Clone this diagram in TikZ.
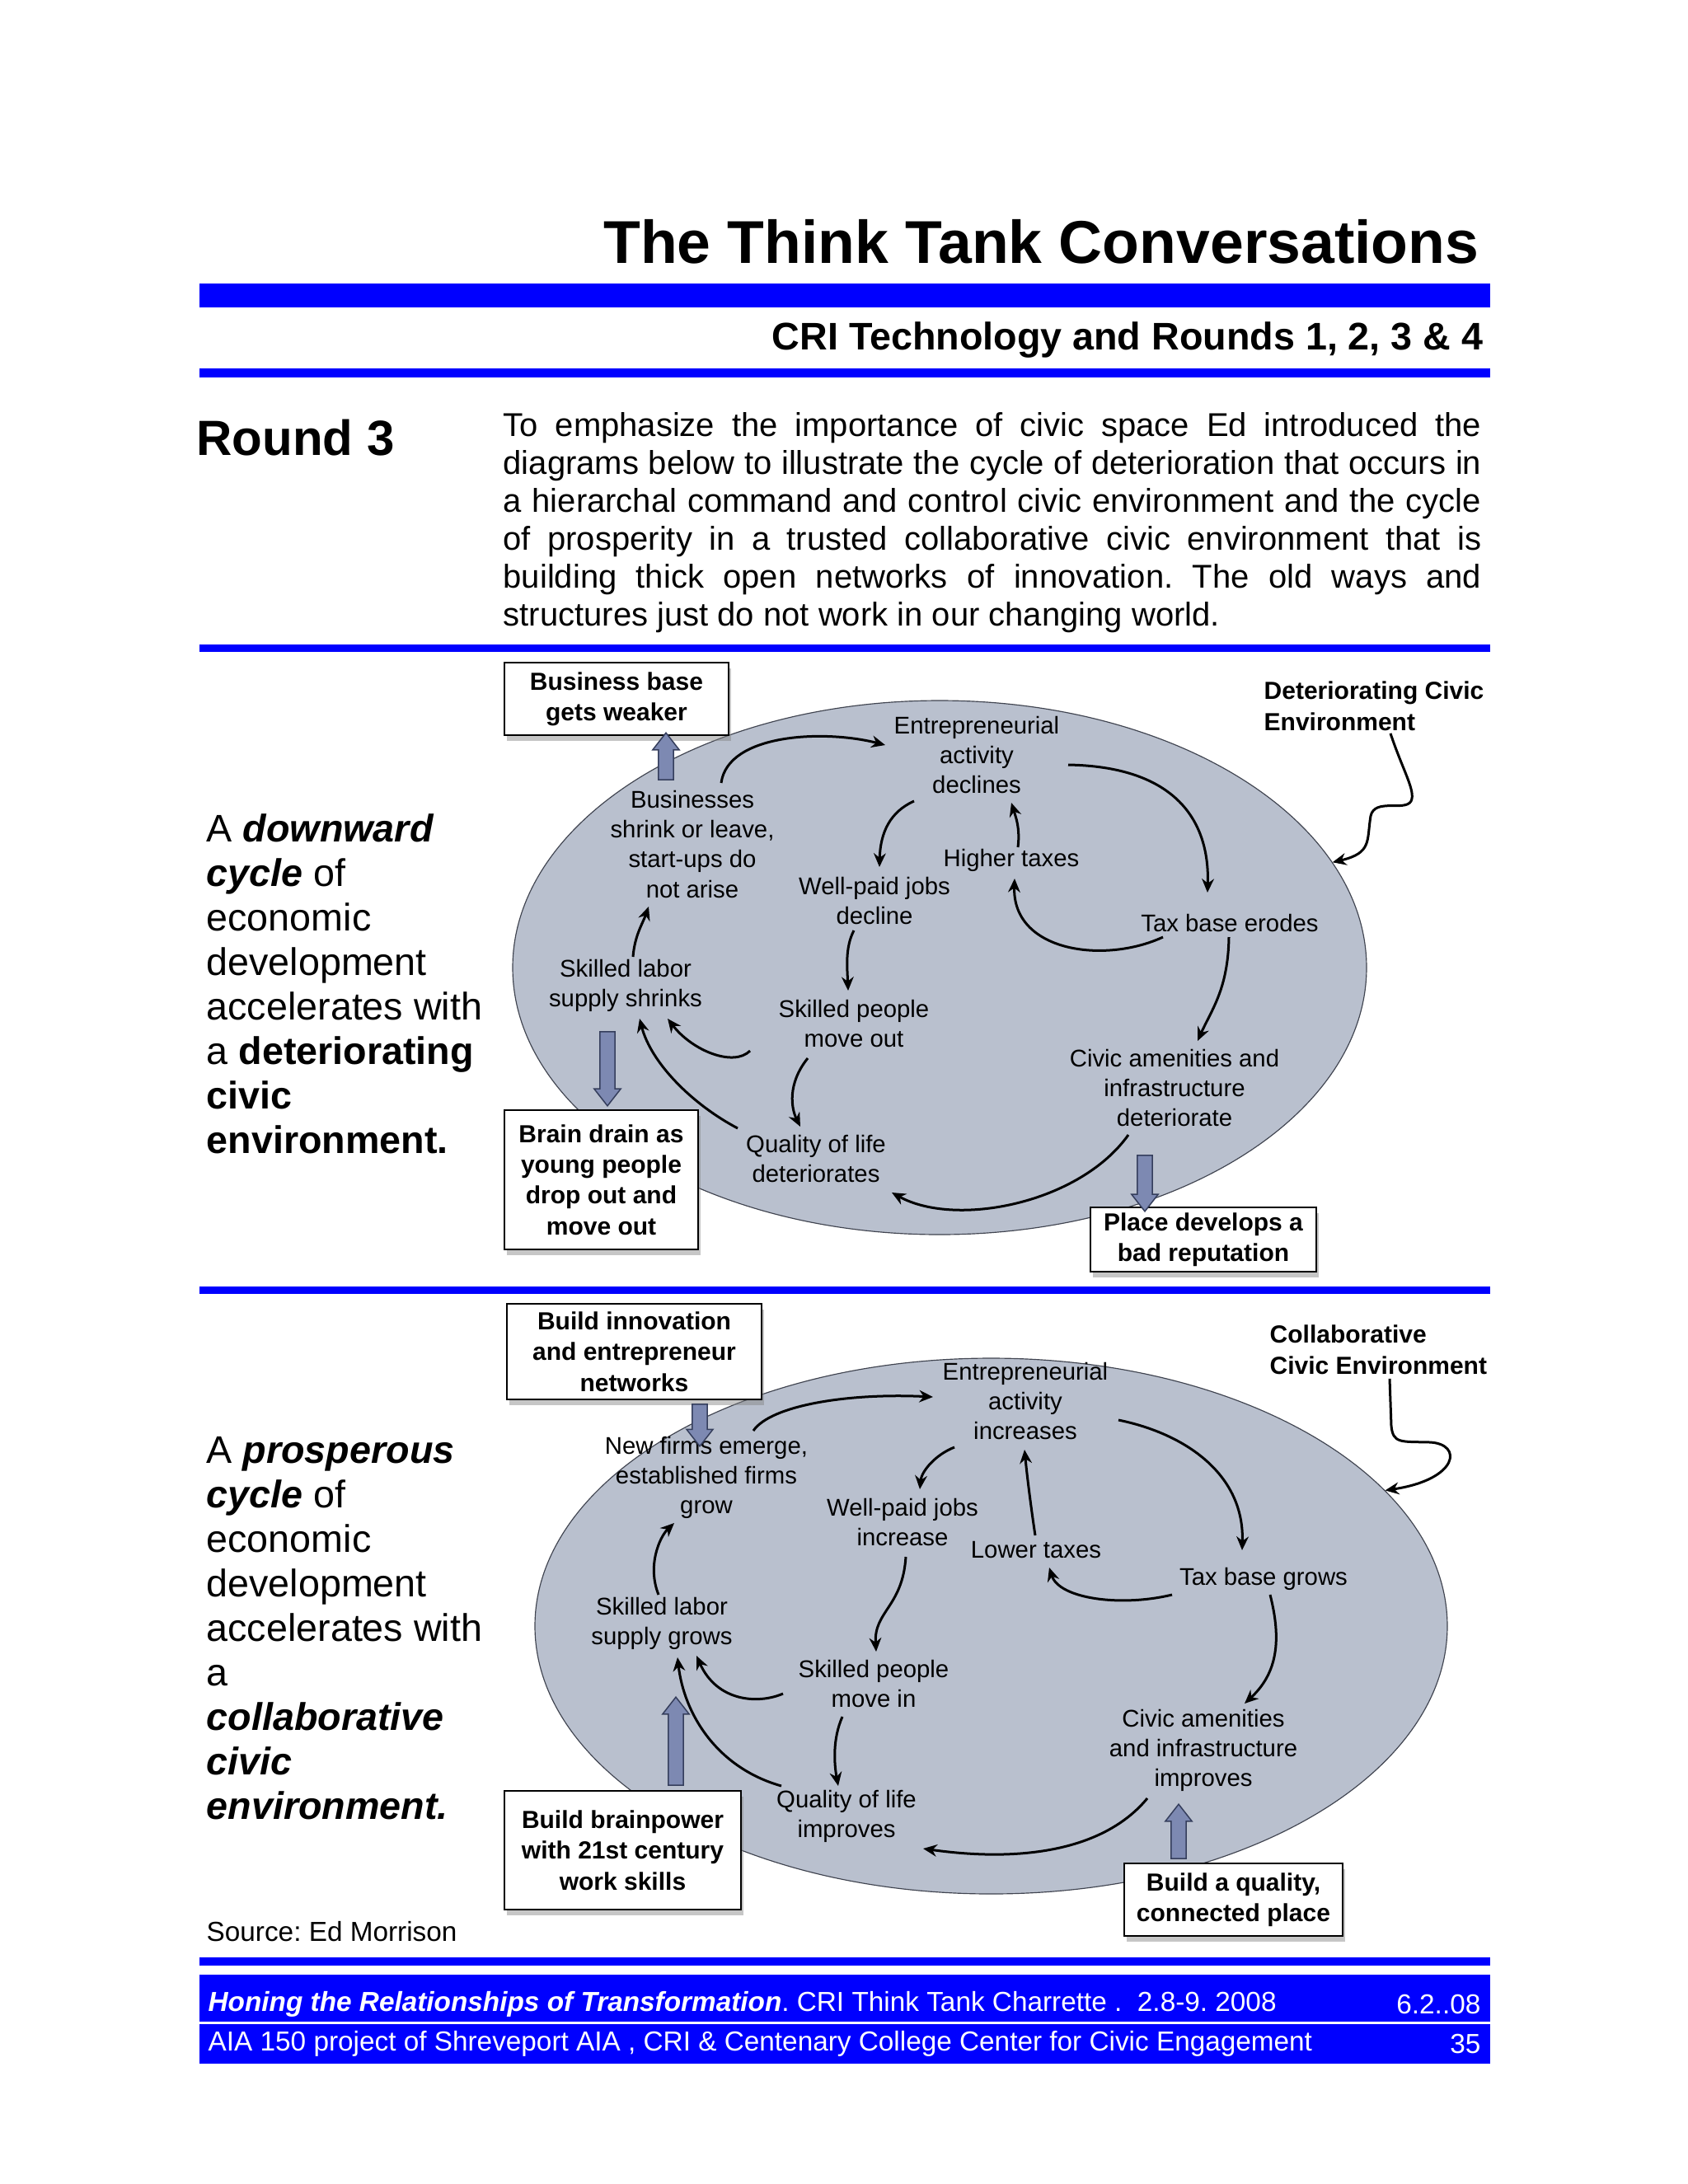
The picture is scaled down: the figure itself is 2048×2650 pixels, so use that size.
\documentclass[tikz,border=0pt]{standalone}
\usepackage{fontspec}
\setmainfont{Liberation Sans}
\frenchspacing
\usetikzlibrary{positioning,calc,arrows.meta,shapes.geometric,shapes.arrows,shadows}
\definecolor{bar}      {HTML}{0000FF}
\definecolor{ovalfill} {HTML}{B9C0CE}
\definecolor{ovaldraw} {HTML}{404450}
\definecolor{blkfill}  {HTML}{7D89B2}
\definecolor{blkdraw}  {HTML}{353E5C}
\tikzset{
  >=stealth,
  % --- nodes
  cyc/.style   = {align=center, inner sep=0pt, font=\fontsize{8.8}{10.9}\selectfont},
  box/.style   = {draw=black, line width=0.6pt, fill=white, align=center, inner sep=0pt,
                  font=\fontsize{9}{11.2}\selectfont\bfseries,
                  drop shadow={shadow xshift=1pt, shadow yshift=-2.2pt, opacity=.45}},
  oval/.style  = {ellipse, draw=ovaldraw, fill=ovalfill, line width=0.35pt, inner sep=0pt},
  envlbl/.style= {align=left, inner sep=0pt, font=\fontsize{9}{11.5}\selectfont\bfseries},
  blk/.style   = {single arrow, draw=blkdraw, fill=blkfill, line width=0.45pt,
                  inner sep=2.5pt, single arrow head extend=2.1pt, single arrow tip angle=76},
  side/.style  = {align=left, inner sep=0pt, font=\fontsize{14}{16.2}\selectfont},
  foot/.style  = {inner sep=0pt, text=white, font=\fontsize{10}{12}\selectfont},
  % --- edges
  e/.style     = {-{Stealth[length=5pt,width=4.4pt]}, line width=0.9pt},
}

\begin{document}
\begin{tikzpicture}[x=0.3pt, y=-0.3pt]
  \useasboundingbox (0,0) rectangle (2048,2650);

  % --- header
  \node[anchor=base east, inner sep=0pt, font=\fontsize{22}{24}\selectfont\bfseries] (title)
    at (1795,319) {The Think Tank Conversations};
  \fill[bar] (242,344) rectangle (1808,373);
  \node[anchor=base east, inner sep=0pt, font=\fontsize{14}{16}\selectfont\bfseries] (sub)
    at (1800,424) {CRI Technology and Rounds 1, 2, 3 \& 4};
  \fill[bar] (242,447) rectangle (1808,458);

  \node[anchor=west, inner sep=0pt, font=\fontsize{18}{20}\selectfont\bfseries] (rnd)
    at (238,531) {Round 3};
  \node[anchor=north west, inner sep=0pt, text width=356pt, align=justify,
        font=\fontsize{12}{13.8}\selectfont] (intro) at (610,500)
    {To emphasize the importance of civic space Ed introduced the\linebreak
     diagrams below to illustrate the cycle of deterioration that occurs in\linebreak
     a hierarchal command and control civic environment and the cycle\linebreak
     of prosperity in a trusted collaborative civic environment that is\linebreak
     building thick open networks of innovation. The old ways and\linebreak
     structures just do not work in our changing world.};
  \fill[bar] (242,782) rectangle (1808,791);

  % --- downward cycle
  \node[side, anchor=north west] (cap1) at (250,987)
    {A \textbf{\textit{downward}}\\\textbf{\textit{cycle}} of\\economic\\development\\accelerates with\\
     a \textbf{deteriorating}\\\textbf{civic}\\\textbf{environment.}};

  \node[oval, minimum width=310.8pt, minimum height=194.4pt] (dia1) at (1140,1174) {};

  \node[cyc] (ent1)  at (1185,916)  {Entrepreneurial\\activity\\declines};
  \node[cyc] (biz1)  at (840,1024)  {Businesses\\shrink or leave,\\start-ups do\\not arise};
  \node[cyc] (wpj1)  at (1061,1093) {Well-paid jobs\\decline};
  \node[cyc] (tax1)  at (1227,1044) {Higher taxes};
  \node[cyc] (tbe1)  at (1492,1120) {Tax base erodes};
  \node[cyc] (skl1)  at (759,1196)  {Skilled labor\\supply shrinks};
  \node[cyc] (skp1)  at (1036,1242) {Skilled people\\move out};
  \node[cyc] (civ1)  at (1425,1320) {Civic amenities and\\infrastructure\\deteriorate};
  \node[cyc] (qol1)  at (990,1406)  {Quality of life\\deteriorates};

  \node[box, minimum width=81.6pt, minimum height=26.4pt] (bb1) at (748,848)
    {Business base\\gets weaker};
  \node[box, minimum width=70.5pt, minimum height=50.7pt] (bd1) at (729.5,1431.5)
    {Brain drain as\\young people\\drop out and\\move out};
  \node[box, minimum width=82.2pt, minimum height=23.4pt] (pd1) at (1460,1504)
    {Place develops a\\bad reputation};
  \node[envlbl, anchor=west] (env1) at (1533,857) {Deteriorating Civic\\Environment};

  \node[blk, shape border rotate=90,  minimum height=17.1pt] (u1) at (808,923.5) {};
  \node[blk, shape border rotate=270, minimum height=27pt]   (d1) at (737,1291) {};
  \node[blk, shape border rotate=270, minimum height=20.4pt] (d2) at (1389,1430) {};

  \draw[e] ($(biz1)+(35,-74)$)  .. controls (883,890)   and (1000,885)  .. ($(ent1)+(-111,-12)$);
  \draw[e] ($(ent1)+(111,12)$)  .. controls (1420,930)  and (1468,990)  .. ($(tbe1)+(-27,-37)$);
  \draw[e] ($(ent1)+(-76,56)$)  .. controls (1080,985)  and (1068,1010) .. ($(wpj1)+(6,-41)$);
  \draw[e] ($(tax1)+(8,-16)$)   .. controls (1238,1005) and (1232,990)  .. ($(ent1)+(42,58)$);
  \draw[e] ($(tbe1)+(-81,17)$)  .. controls (1340,1170) and (1228,1155) .. ($(tax1)+(4,22)$);
  \draw[e] ($(tbe1)+(-1,17)$)   .. controls (1490,1200) and (1470,1225) .. ($(civ1)+(28,-57)$);
  \draw[e] ($(civ1)+(-56,57)$)  .. controls (1310,1460) and (1160,1490) .. ($(qol1)+(92,41)$);
  \draw[e] ($(wpj1)+(-25,36)$)  .. controls (1025,1150) and (1028,1175) .. ($(skp1)+(-7,-40)$);
  \draw[e] ($(skp1)+(-56,42)$)  .. controls (955,1315)  and (960,1345)  .. ($(qol1)+(-19,-39)$);
  \draw[e] ($(skp1)+(-126,33)$) .. controls (890,1295)  and (840,1275)  .. ($(skl1)+(51,40)$);
  \draw[e] ($(qol1)+(-95,-37)$) .. controls (840,1340)  and (790,1290)  .. ($(skl1)+(17,40)$);
  \draw[e] ($(skl1)+(9,-35)$)   .. controls (770,1135)  and (780,1120)  .. ($(biz1)+(-53,76)$);
  \draw[e] ($(env1.south west)+(154,2)$) .. controls (1702,935) and (1718,960) .. (1712,972)
    .. controls (1705,985) and (1668,968) .. (1663,990)
    .. controls (1658,1020) and (1665,1035) .. (dia1.15);

  \fill[bar] (242,1561) rectangle (1808,1570);

  % --- prosperous cycle
  \node[side, anchor=north west] (cap2) at (250,1743)
    {A \textbf{\textit{prosperous}}\\\textbf{\textit{cycle}} of\\economic\\development\\accelerates with\\
     a\\\textbf{\textit{collaborative}}\\\textbf{\textit{civic}}\\\textbf{\textit{environment.}}};
  \node[anchor=west, inner sep=0pt, font=\fontsize{10}{12}\selectfont] (src) at (250,2344)
    {Source: Ed Morrison};

  \node[oval, minimum width=332.1pt, minimum height=195pt] (dia2) at (1202.5,1973) {};

  \node[cyc] (ent2)  at (1244,1700) {Entrepreneurial\\activity\\increases};
  \node[cyc] (nf2)   at (857,1793)  {New firms emerge,\\established firms\\grow};
  \node[cyc] (wpj2)  at (1095,1847) {Well-paid jobs\\increase};
  \node[cyc] (lt2)   at (1257,1881) {Lower taxes};
  \node[cyc] (tbg2)  at (1533,1916) {Tax base grows};
  \node[cyc] (skl2)  at (803,1970)  {Skilled labor\\supply grows};
  \node[cyc] (skp2)  at (1060,2043) {Skilled people\\move in};
  \node[cyc] (civ2)  at (1460,2124) {Civic amenities\\and infrastructure\\improves};
  \node[cyc] (qol2)  at (1027,2204) {Quality of life\\improves};

  \node[box, minimum width=92.7pt, minimum height=34.8pt] (bi2) at (769.5,1640)
    {Build innovation\\and entrepreneur\\networks};
  \node[box, minimum width=86.1pt, minimum height=43.2pt] (bp2) at (755.5,2245)
    {Build brainpower\\with 21st century\\work skills};
  \node[box, minimum width=79.5pt, minimum height=26.4pt] (bq2) at (1496.5,2305)
    {Build a quality,\\connected place};
  \node[envlbl, anchor=west] (env2) at (1540,1638) {Collaborative\\Civic Environment};

  \node[blk, shape border rotate=270, minimum height=15.3pt] (d3) at (849,1723.5) {};
  \node[blk, shape border rotate=90,  minimum height=32.1pt] (u2) at (820,2118.5) {};
  \node[blk, shape border rotate=90,  minimum height=19.8pt] (u3) at (1430,2228) {};

  \draw[e] ($(nf2)+(57,-57)$)   .. controls (935,1705)  and (1030,1690) .. ($(ent2)+(-112,-5)$);
  \draw[e] ($(ent2)+(113,23)$)  .. controls (1440,1740) and (1510,1790) .. ($(tbg2)+(-26,-35)$);
  \draw[e] ($(ent2)+(-86,56)$)  .. controls (1135,1765) and (1118,1785) .. ($(wpj2)+(21,-40)$);
  \draw[e] ($(lt2)+(-1,-18)$)   .. controls (1251,1830) and (1246,1790) .. ($(ent2)+(-1,59)$);
  \draw[e] ($(tbg2)+(-111,19)$) .. controls (1360,1950) and (1285,1940) .. ($(lt2)+(16,21)$);
  \draw[e] ($(tbg2)+(8,19)$)    .. controls (1555,1990) and (1550,2030) .. ($(civ2)+(50,-57)$);
  \draw[e] ($(civ2)+(-68,58)$)  .. controls (1340,2245) and (1240,2260) .. ($(qol2)+(93,39)$);
  \draw[e] ($(wpj2)+(4,42)$)    .. controls (1095,1950) and (1060,1955) .. ($(skp2)+(3,-39)$);
  \draw[e] ($(skp2)+(-38,40)$)  .. controls (1010,2110) and (1012,2140) .. ($(qol2)+(-10,-37)$);
  \draw[e] ($(skp2)+(-110,12)$) .. controls (920,2068)  and (870,2065)  .. ($(skl2)+(42,39)$);
  \draw[e] ($(qol2)+(-79,-37)$) .. controls (870,2145)  and (830,2080)  .. ($(skl2)+(19,41)$);
  \draw[e] ($(skl2)+(-4,-35)$)  .. controls (785,1900)  and (800,1865)  .. ($(nf2)+(-39,55)$);
  \draw[e] ($(env2.south west)+(146,4)$) -- (1688,1730)
    .. controls (1690,1752) and (1700,1749) .. (1735,1750)
    .. controls (1775,1752) and (1770,1795) .. (dia2.19);

  % --- footer
  \fill[bar] (242,2375) rectangle (1808,2385);
  \fill[bar] (242,2396) rectangle (1808,2453);
  \fill[bar] (242,2456) rectangle (1808,2504);
  \node[foot, anchor=west] (ft1) at (252,2432)
    {\textbf{\textit{Honing the Relationships of Transformation}}. CRI Think Tank Charrette .\ \ 2.8-9. 2008};
  \node[foot, anchor=east] (pg1) at (1797,2432) {6.2..08};
  \node[foot, anchor=west] (ft2) at (252,2480)
    {AIA 150 project of Shreveport AIA , CRI \& Centenary College Center for Civic Engagement};
  \node[foot, anchor=east] (pg2) at (1797,2480) {35};
\end{tikzpicture}
\end{document}
